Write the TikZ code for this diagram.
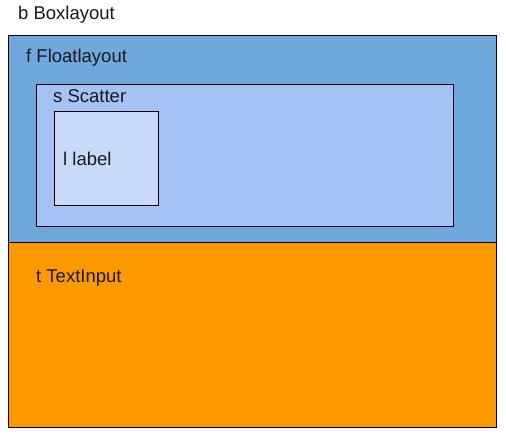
\documentclass[tikz,border=0pt]{standalone}
\usepackage{fontspec}
\setmainfont{Liberation Sans}
\definecolor{floatblue}{HTML}{6FA8DC}
\definecolor{scatterblue}{HTML}{A4C2F4}
\definecolor{labelblue}{HTML}{C9DAF8}
\definecolor{textorange}{HTML}{FF9900}
\tikzset{
  panel/.style={draw=black, line width=1pt},
  lbl/.style={anchor=base west, inner sep=0pt, font=\fontsize{18.5}{22}\selectfont, text=black!90}
}
\begin{document}
\begin{tikzpicture}[x=1pt,y=-1pt]
\useasboundingbox (0,0) rectangle (506,434);
\fill[white] (0,0) rectangle (506,434);
\node[lbl] (btxt) at (18,19) {b Boxlayout};
\draw[panel, fill=floatblue] (8,35) rectangle (496,242);
\node[lbl] (ftxt) at (26,62) {f Floatlayout};
\draw[panel, fill=scatterblue] (36,84) rectangle (453,226);
\node[lbl] (stxt) at (53,102) {s Scatter};
\draw[panel, fill=labelblue] (54,111) rectangle (158,205);
\node[lbl] (ltxt) at (63,165) {l label};
\draw[panel, fill=textorange] (8,242) rectangle (496,427);
\node[lbl] (ttxt) at (36,282) {t TextInput};
\end{tikzpicture}
\end{document}
